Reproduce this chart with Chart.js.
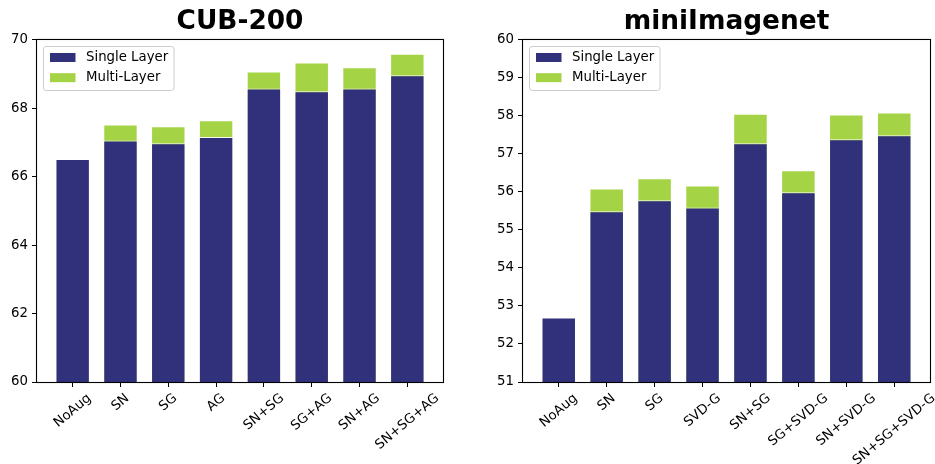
<!DOCTYPE html>
<html>
<head>
<meta charset="utf-8">
<title>CUB-200 / miniImagenet</title>
<script src="https://cdn.jsdelivr.net/npm/chart.js@4/dist/chart.umd.min.js"></script>
<style>
  html, body { margin: 0; padding: 0; background: #fff; }
  #wrap { position: relative; width: 935px; height: 464px; overflow: hidden; }
  .panel { position: absolute; top: 0; }
  #left { left: 0; }
  #right { left: 470px; }
</style>
</head>
<body>
<div id="wrap">
  <div class="panel" id="left"><canvas id="cub" width="470" height="464"></canvas></div>
  <div class="panel" id="right"><canvas id="mini" width="465" height="464"></canvas></div>
</div>
<script>
// ---- data ----
const seriesNames = ['Single Layer', 'Multi-Layer'];

const cubCategories = ['NoAug', 'SN', 'SG', 'AG', 'SN+SG', 'SG+AG', 'SN+AG', 'SN+SG+AG'];
const cubSingle = [66.52, 67.06, 66.98, 67.16, 68.58, 68.50, 68.58, 68.97];
const cubMulti  = [null,  67.53, 67.48, 67.65, 69.08, 69.34, 69.20, 69.60];
const cubTicks  = [60, 62, 64, 66, 68, 70];

const miniCategories = ['NoAug', 'SN', 'SG', 'SVD-G', 'SN+SG', 'SG+SVD-G', 'SN+SVD-G', 'SN+SG+SVD-G'];
const miniSingle = [52.70, 55.49, 55.78, 55.59, 57.28, 55.99, 57.39, 57.49];
const miniMulti  = [null,  56.09, 56.36, 56.17, 58.06, 56.57, 58.04, 58.09];
const miniTicks  = [51, 52, 53, 54, 55, 56, 57, 58, 59, 60];

// ---- styling ----
const FONT = 'DejaVu Sans';
const SINGLE_COLOR = '#30307b';
const MULTI_COLOR = '#a5d346';
Chart.defaults.font.family = FONT;
Chart.defaults.color = '#000';

// Frame around the plot area plus the boxed legend in its upper-left corner
const framePlugin = {
  id: 'frameAndLegend',
  afterDatasetsDraw(chart) {
    const { ctx, chartArea: a } = chart;
    ctx.save();
    ctx.strokeStyle = '#000';
    ctx.lineWidth = 1.1;
    ctx.strokeRect(a.left - 0.5, a.top - 0.5, a.right - a.left + 1, a.bottom - a.top + 1);

    // legend box
    const bx = a.left + 6.5, by = a.top + 6.5, bw = 130.5, bh = 44, r = 2.7;
    ctx.beginPath();
    ctx.moveTo(bx + r, by);
    ctx.lineTo(bx + bw - r, by);
    ctx.quadraticCurveTo(bx + bw, by, bx + bw, by + r);
    ctx.lineTo(bx + bw, by + bh - r);
    ctx.quadraticCurveTo(bx + bw, by + bh, bx + bw - r, by + bh);
    ctx.lineTo(bx + r, by + bh);
    ctx.quadraticCurveTo(bx, by + bh, bx, by + bh - r);
    ctx.lineTo(bx, by + r);
    ctx.quadraticCurveTo(bx, by, bx + r, by);
    ctx.closePath();
    ctx.fillStyle = 'rgba(255,255,255,0.8)';
    ctx.fill();
    ctx.strokeStyle = '#cccccc';
    ctx.lineWidth = 1;
    ctx.stroke();

    ctx.font = '13.3px "' + FONT + '"';
    ctx.textBaseline = 'middle';
    ctx.textAlign = 'left';
    chart.data.datasets.forEach((ds, i) => {
      const cy = a.top + 17.5 + i * 20.2;
      ctx.fillStyle = ds.backgroundColor;
      ctx.fillRect(bx + 6.5, cy - 4.5, 25.5, 9);
      ctx.fillStyle = '#000';
      ctx.fillText(ds.label, bx + 42.5, cy);
    });
    ctx.restore();
  }
};

// Category names under the x axis, rotated 40 degrees and centred on each tick
const rotatedLabels = {
  id: 'rotatedLabels',
  afterDraw(chart, args, opts) {
    const { ctx, chartArea: a } = chart;
    const xs = chart.scales.x;
    const ang = 40 * Math.PI / 180;
    ctx.save();
    ctx.font = '13.3px "' + FONT + '"';
    ctx.fillStyle = '#000';
    ctx.textAlign = 'center';
    ctx.textBaseline = 'middle';
    opts.labels.forEach((lab, i) => {
      const w = ctx.measureText(lab).width;
      const h = 12;
      const H = w * Math.sin(ang) + h * Math.cos(ang);
      const cx = xs.getPixelForValue(i);
      const cy = a.bottom + 10 + H / 2;
      ctx.save();
      ctx.translate(cx, cy);
      ctx.rotate(-ang);
      ctx.fillText(lab, 0, 0);
      ctx.restore();
    });
    ctx.restore();
  }
};

function makeChart(id, title, categories, single, multi, yTicks, yWidth, padRight) {
  const toPoints = arr => arr.map((v, i) => ({ x: i, y: v }));
  return new Chart(document.getElementById(id), {
    type: 'bar',
    data: {
      datasets: [
        {
          label: seriesNames[0],
          data: toPoints(single),
          backgroundColor: SINGLE_COLOR,
          borderColor: 'rgba(255,255,255,0.9)',
          borderWidth: 1,
          borderSkipped: 'start'
        },
        {
          label: seriesNames[1],
          data: toPoints(multi),
          backgroundColor: MULTI_COLOR,
          borderColor: 'rgba(255,255,255,0.9)',
          borderWidth: 1,
          borderSkipped: 'start'
        }
      ]
    },
    options: {
      responsive: false,
      devicePixelRatio: 1,
      animation: false,
      events: [],
      layout: { padding: { left: 0, right: padRight, top: 0, bottom: 0 } },
      datasets: { bar: { barPercentage: 0.72, categoryPercentage: 1.0 } },
      scales: {
        x: {
          type: 'linear',
          stacked: true,
          offset: false,
          min: -0.746,
          max: categories.length - 1 + 0.746,
          afterBuildTicks: s => { s.ticks = categories.map((_, i) => ({ value: i })); },
          afterFit: s => { s.height = 82; },
          grid: { offset: false, drawOnChartArea: false, drawTicks: true, tickLength: 5, tickColor: '#000', tickWidth: 1 },
          border: { display: false },
          ticks: { display: false }
        },
        y: {
          stacked: false,
          min: yTicks[0],
          max: yTicks[yTicks.length - 1],
          afterBuildTicks: s => { s.ticks = yTicks.map(v => ({ value: v })); },
          afterFit: s => { s.width = yWidth; },
          grid: { drawOnChartArea: false, drawTicks: true, tickLength: 5, tickColor: '#000', tickWidth: 1 },
          border: { display: false },
          ticks: { font: { size: 13.3 }, color: '#000', padding: 4 }
        }
      },
      plugins: {
        legend: { display: false },
        tooltip: { enabled: false },
        title: {
          display: true,
          text: title,
          fullSize: false,
          color: '#000',
          font: { family: FONT, size: 26.4, weight: 'bold' },
          padding: { top: 6.5, bottom: 1.8 }
        },
        rotatedLabels: { labels: categories }
      }
    },
    plugins: [framePlugin, rotatedLabels]
  });
}

makeChart('cub', 'CUB-200', cubCategories, cubSingle, cubMulti, cubTicks, 37, 27);
makeChart('mini', 'miniImagenet', miniCategories, miniSingle, miniMulti, miniTicks, 53, 5);
</script>
</body>
</html>
